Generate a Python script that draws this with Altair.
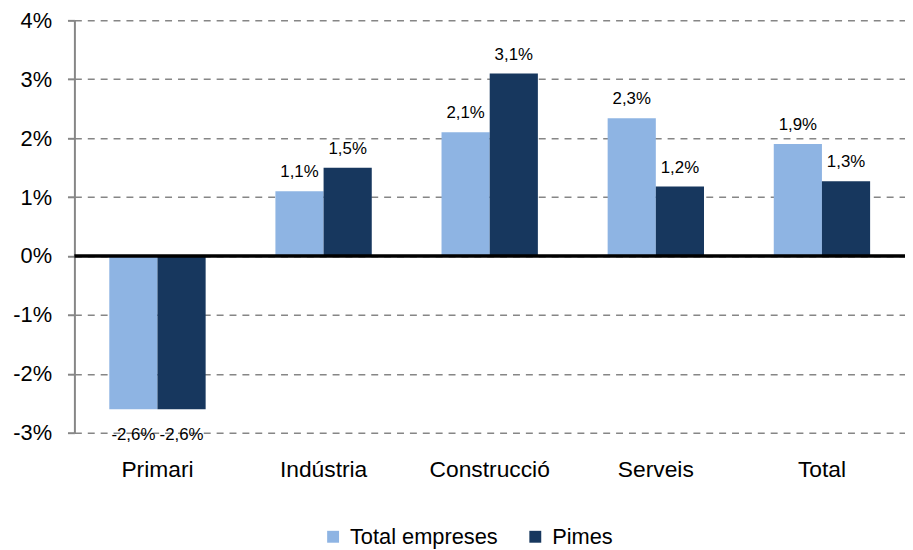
import altair as alt
import pandas as pd

categories = ["Primari", "Indústria", "Construcció", "Serveis", "Total"]
series_names = ["Total empreses", "Pimes"]
total_empreses = [-2.6, 1.1, 2.1, 2.34, 1.9]
pimes = [-2.6, 1.5, 3.1, 1.18, 1.27]
y_ticks = [-3, -2, -1, 0, 1, 2, 3, 4]
colors = ["#8EB4E3", "#17375E"]

rows = []
for c, a, b in zip(categories, total_empreses, pimes):
    rows.append({"category": c, "series": series_names[0], "value": a})
    rows.append({"category": c, "series": series_names[1], "value": b})
df = pd.DataFrame(rows)

FONT = "Liberation Sans"

base = alt.Chart(df).encode(
    x=alt.X(
        "category:N",
        sort=categories,
        scale=alt.Scale(paddingInner=0.42, paddingOuter=0.21),
        axis=alt.Axis(
            title=None, labelAngle=0, domain=False, ticks=False,
            labelFontSize=23, labelPadding=26, labelColor="#000",
        ),
    ),
    xOffset=alt.XOffset("series:N", sort=series_names),
)

bars = base.mark_bar().encode(
    y=alt.Y(
        "value:Q",
        scale=alt.Scale(domain=[-3, 4], nice=False, zero=False),
        axis=alt.Axis(
            values=y_ticks,
            labelExpr="datum.value + '%'",
            title=None,
            grid=True,
            gridDash=[7, 6],
            gridColor="#868686",
            gridWidth=1.5,
            domainColor="#868686",
            domainWidth=2,
            tickColor="#868686",
            tickSize=7,
            tickWidth=2,
            labelFontSize=22,
            labelPadding=16,
            labelColor="#000",
        ),
    ),
    color=alt.Color(
        "series:N",
        sort=series_names,
        scale=alt.Scale(domain=series_names, range=colors),
        legend=alt.Legend(
            title=None,
            orient="none",
            legendX=250,
            legendY=510,
            direction="horizontal",
            symbolType="square",
            symbolSize=144,
            symbolStrokeWidth=0,
            labelFontSize=22,
            labelOffset=6,
            columnPadding=26,
            labelColor="#000",
            padding=0,
        ),
    ),
)

label_expr = "replace(replace(format(datum.value, '.1f'), '.', ','), '\u2212', '-') + '%'"

pos_text = base.transform_filter("datum.value >= 0").transform_calculate(
    label=label_expr
).mark_text(dy=-14, baseline="alphabetic", fontSize=17, color="#000").encode(
    y="value:Q", text="label:N"
)

neg_text = base.transform_filter("datum.value < 0").transform_calculate(
    label=label_expr
).mark_text(dy=31, baseline="alphabetic", fontSize=17, color="#000").encode(
    y="value:Q", text="label:N"
)

zero = alt.Chart(pd.DataFrame({"z": [0]})).mark_rule(
    color="black", strokeWidth=3.5
).encode(y="z:Q")

chart = alt.layer(bars, zero, pos_text, neg_text).properties(
    width=838,
    height=416,
    autosize=alt.AutoSizeParams(type="none"),
    padding={"left": 67, "top": 10, "right": 0, "bottom": 130},
).configure(font=FONT).configure_view(stroke=None)

chart.save("out.html", embed_options={"renderer": "svg", "actions": False})
